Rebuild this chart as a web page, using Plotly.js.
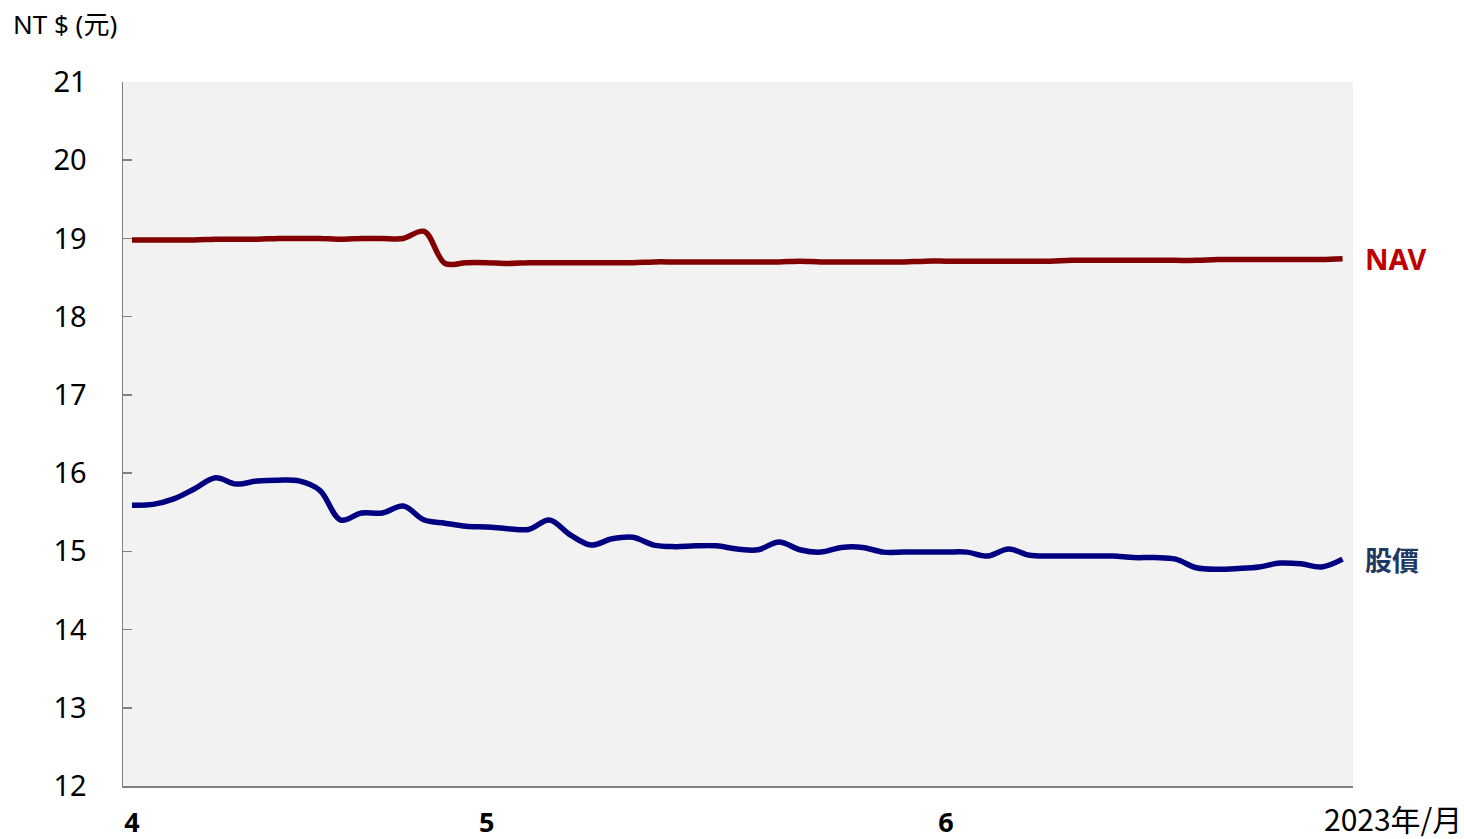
<!DOCTYPE html>
<html>
<head>
<meta charset="utf-8">
<script src="https://cdn.plot.ly/plotly-3.0.1.min.js"></script>
<style>html,body{margin:0;padding:0;background:#fff;}#chart{width:1464px;height:839px;}</style>
</head>
<body>
<div id="chart"></div>
<script>
// Trading-day index 0..58 (Apr–Jun 2023)
const monthTickIndex = [0, 17, 39];
const monthTickText = ['4', '5', '6'];
const navValues = [
  18.98, 18.98, 18.98, 18.98, 18.99, 18.99, 18.99, 19.00, 19.00, 19.00,
  18.99, 19.00, 19.00, 19.00, 19.09, 18.68, 18.69, 18.69, 18.68, 18.69,
  18.69, 18.69, 18.69, 18.69, 18.69, 18.70, 18.70, 18.70, 18.70, 18.70,
  18.70, 18.70, 18.71, 18.70, 18.70, 18.70, 18.70, 18.70, 18.71, 18.71,
  18.71, 18.71, 18.71, 18.71, 18.71, 18.72, 18.72, 18.72, 18.72, 18.72,
  18.72, 18.72, 18.73, 18.73, 18.73, 18.73, 18.73, 18.73, 18.74
];
const priceValues = [
  15.59, 15.60, 15.67, 15.80, 15.94, 15.86, 15.90, 15.91, 15.90, 15.78,
  15.40, 15.49, 15.49, 15.58, 15.40, 15.36, 15.32, 15.31, 15.29, 15.28,
  15.40, 15.21, 15.08, 15.16, 15.18, 15.08, 15.06, 15.07, 15.07, 15.03,
  15.02, 15.12, 15.02, 14.99, 15.05, 15.05, 14.99, 14.99, 14.99, 14.99,
  14.99, 14.94, 15.03, 14.95, 14.94, 14.94, 14.94, 14.94, 14.92, 14.92,
  14.90, 14.79, 14.77, 14.78, 14.80, 14.85, 14.84, 14.80, 14.90
];
const seriesNames = ['NAV', '股價'];
const yTickValues = [12, 13, 14, 15, 16, 17, 18, 19, 20, 21];

const idx = navValues.map((_, i) => i);
const FONT = 'Noto Sans, "Noto Sans CJK TC", sans-serif';
const CJK = '"Noto Sans CJK TC", "Noto Sans", sans-serif';

const traces = [
  {x: idx, y: navValues, name: seriesNames[0], type: 'scatter', mode: 'lines',
   line: {color: '#820000', width: 5.5, shape: 'spline', smoothing: 1}},
  {x: idx, y: priceValues, name: seriesNames[1], type: 'scatter', mode: 'lines',
   line: {color: '#000080', width: 5.5, shape: 'spline', smoothing: 1}}
];

const layout = {
  width: 1464, height: 839,
  margin: {l: 123, r: 111, t: 82, b: 53},
  paper_bgcolor: '#ffffff',
  plot_bgcolor: '#f2f2f2',
  showlegend: false,
  xaxis: {
    range: [-0.43, 58.5],
    tickvals: monthTickIndex, ticktext: monthTickText,
    ticks: '', showgrid: false, zeroline: false,
    showline: true, linecolor: '#808080', linewidth: 2,
    tickfont: {family: FONT, size: 27, color: '#000', weight: 'bold'},
    ticklabelstandoff: 12
  },
  yaxis: {
    range: [12, 21], tickvals: yTickValues,
    ticks: 'inside', ticklen: 9, tickwidth: 1.5, tickcolor: '#808080',
    showgrid: false, zeroline: false,
    showline: true, linecolor: '#808080', linewidth: 1.5,
    tickfont: {family: FONT, size: 29, color: '#000'},
    ticklabelstandoff: 29
  },
  annotations: [
    {text: 'NT $ (元)', xref: 'paper', yref: 'paper', x: -0.091, y: 1.083,
     xanchor: 'left', yanchor: 'middle', showarrow: false,
     font: {family: FONT, size: 26, color: '#000'}},
    {text: '2023年/月', xref: 'paper', yref: 'paper', x: 1.0, y: -0.045,
     xanchor: 'left', yanchor: 'middle', showarrow: false, xshift: -31,
     font: {family: CJK, size: 30, color: '#000'}},
    {text: '<b>NAV</b>', xref: 'paper', yref: 'y', x: 1.0114, y: 18.74,
     xanchor: 'left', yanchor: 'middle', showarrow: false, xshift: -4,
     font: {family: FONT, size: 29, color: '#C00000'}},
    {text: '<b>股價</b>', xref: 'paper', yref: 'y', x: 1.0114, y: 14.89,
     xanchor: 'left', yanchor: 'middle', showarrow: false, xshift: -4,
     font: {family: CJK, size: 27, color: '#1F3864'}}
  ]
};

Plotly.newPlot('chart', traces, layout, {staticPlot: true, displayModeBar: false});
</script>
</body>
</html>
